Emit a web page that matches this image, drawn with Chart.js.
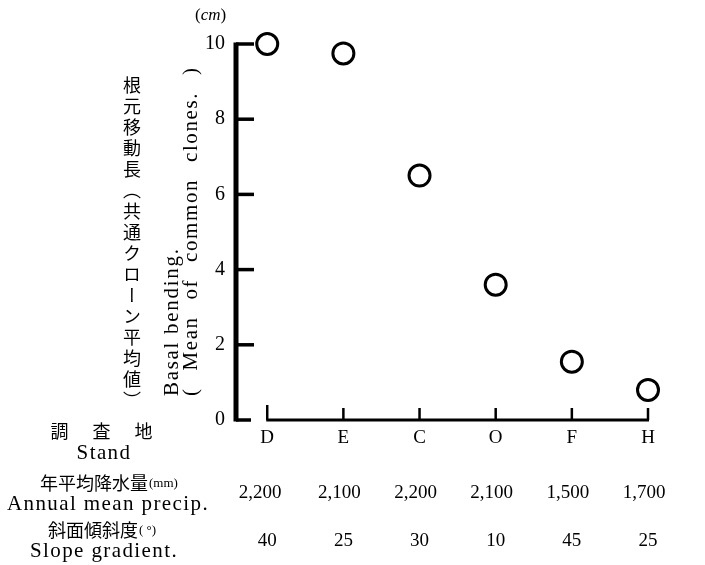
<!DOCTYPE html>
<html>
<head>
<meta charset="utf-8">
<script src="https://cdn.jsdelivr.net/npm/chart.js@4/dist/chart.umd.min.js"></script>
<style>
  html, body { margin: 0; padding: 0; background: #fff; }
  #wrap { position: relative; width: 705px; height: 565px; }
  #c { position: absolute; left: 0; top: 0; }
  .t { position: absolute; color: #000; white-space: pre; font-family: "Liberation Serif", serif; }
  .jp { font-family: "Noto Sans CJK JP", sans-serif; }
</style>
</head>
<body>
<div id="wrap">
  <canvas id="c" width="705" height="565"></canvas>
  <div class="t" style="left:195px;top:5px;font-size:17px;">(<i>cm</i>)</div>
  <div class="t jp" id="jpTitle" style="left:123px;top:76px;font-size:18px;writing-mode:vertical-rl;letter-spacing:3px;line-height:1;">根元移動長（共通クローン平均値）</div>
  <div class="t" id="enTitle1" style="left:173px;top:396px;font-size:21px;letter-spacing:1.7px;transform-origin:0 0;transform:rotate(-90deg) translate(0,-12px);line-height:1;">Basal bending.</div>
  <div class="t" id="enTitle2" style="left:192px;top:396px;font-size:21px;letter-spacing:1.6px;word-spacing:10px;transform-origin:0 0;transform:rotate(-90deg) translate(0,-12px);line-height:1;">( Mean of common clones. )</div>
</div>
<script>
const categories = ['D', 'E', 'C', 'O', 'F', 'H'];
const basalBending = [10, 9.75, 6.5, 3.6, 1.55, 0.8];
const annualPrecip = ['2,200', '2,100', '2,200', '2,100', '1,500', '1,700'];
const slopeGradient = ['40', '25', '30', '10', '45', '25'];
const yTicks = [0, 2, 4, 6, 8, 10];
const rowLabels = [
  { jp: '調　査　地', en: 'Stand' },
  { jp: '年平均降水量', unit: '(mm)', en: 'Annual mean precip.' },
  { jp: '斜面傾斜度', unit: '( °)', en: 'Slope gradient.' }
];

const axisPlugin = {
  id: 'axisPlugin',
  beforeDatasetsDraw(chart) {
    const ctx = chart.ctx;
    const xs = chart.scales.x, ys = chart.scales.y;
    const left = chart.chartArea.left;
    ctx.save();
    ctx.strokeStyle = '#000';
    ctx.lineCap = 'butt';
    ctx.lineWidth = 5;
    ctx.beginPath();
    ctx.moveTo(left, ys.getPixelForValue(10) - 1.5);
    ctx.lineTo(left, ys.getPixelForValue(0) + 1.5);
    ctx.stroke();
    ctx.lineWidth = 3.5;
    yTicks.forEach(v => {
      const y = ys.getPixelForValue(v);
      ctx.beginPath();
      ctx.moveTo(left, y);
      ctx.lineTo(left + (v === 0 ? 15 : 18), y);
      ctx.stroke();
    });
    const y0 = ys.getPixelForValue(0);
    ctx.lineWidth = 3;
    ctx.beginPath();
    ctx.moveTo(xs.getPixelForValue(0) - 1, y0);
    ctx.lineTo(xs.getPixelForValue(categories.length - 1) + 1, y0);
    ctx.stroke();
    ctx.lineWidth = 2.5;
    categories.forEach((c, i) => {
      const x = xs.getPixelForValue(i);
      ctx.beginPath();
      ctx.moveTo(x, y0);
      ctx.lineTo(x, y0 - (i === 0 ? 15 : 12));
      ctx.stroke();
    });
    ctx.restore();
  },
  afterDraw(chart) {
    const ctx = chart.ctx;
    const xs = chart.scales.x;
    ctx.save();
    ctx.fillStyle = '#000';
    ctx.textAlign = 'center';
    ctx.textBaseline = 'middle';
    ctx.font = '19px "Liberation Serif", serif';
    categories.forEach((c, i) => {
      const x = xs.getPixelForValue(i);
      ctx.fillText(annualPrecip[i], x - 4 + (i === 0 ? -3 : 0), 493);
      ctx.fillText(slopeGradient[i], x, 541);
    });
    ctx.font = '18px "Noto Sans CJK JP", sans-serif';
    if ('letterSpacing' in ctx) ctx.letterSpacing = '3px';
    ctx.fillText(rowLabels[0].jp, 103, 431);
    ctx.font = '21px "Liberation Serif", serif';
    if ('letterSpacing' in ctx) ctx.letterSpacing = '1.4px';
    ctx.fillText(rowLabels[0].en, 104, 453);
    ctx.fillText(rowLabels[1].en, 108, 504);
    ctx.fillText(rowLabels[2].en, 104, 551);
    if ('letterSpacing' in ctx) ctx.letterSpacing = '0px';
    [[1, 483, 40], [2, 530, 48]].forEach(([k, y, x0]) => {
      ctx.textAlign = 'left';
      ctx.font = '18px "Noto Sans CJK JP", sans-serif';
      ctx.fillText(rowLabels[k].jp, x0, y);
      const w = ctx.measureText(rowLabels[k].jp).width;
      ctx.font = '13px "Liberation Serif", serif';
      ctx.fillText(rowLabels[k].unit, x0 + w + 1, y + 1);
    });
    ctx.restore();
  }
};

new Chart(document.getElementById('c'), {
  type: 'scatter',
  data: {
    datasets: [{
      data: categories.map((c, i) => ({ x: i, y: basalBending[i] })),
      showLine: false,
      pointStyle: 'circle',
      pointRadius: 10.5,
      pointHoverRadius: 10.5,
      pointBorderWidth: 3,
      pointBorderColor: '#000',
      pointBackgroundColor: '#fff',
      clip: false
    }]
  },
  options: {
    responsive: false,
    animation: false,
    events: [],
    layout: { padding: { left: 186, top: 44, right: 57, bottom: 115 } },
    plugins: { legend: { display: false }, tooltip: { enabled: false } },
    scales: {
      x: {
        type: 'linear',
        min: -0.41,
        max: categories.length - 1,
        afterBuildTicks: s => { s.ticks = categories.map((c, i) => ({ value: i })); },
        afterFit: s => { s.height = 30; },
        grid: { display: false, drawTicks: false },
        border: { display: false },
        ticks: {
          callback: v => categories[v] ?? '',
          color: '#000',
          padding: 7,
          maxRotation: 0,
          autoSkip: false,
          font: { family: '"Liberation Serif", serif', size: 19 }
        }
      },
      y: {
        min: 0,
        max: 10,
        afterBuildTicks: s => { s.ticks = yTicks.map(v => ({ value: v })); },
        afterFit: s => { s.width = 50; },
        grid: { display: false, drawTicks: false },
        border: { display: false },
        ticks: {
          color: '#000',
          padding: 11,
          font: { family: '"Liberation Serif", serif', size: 20 }
        }
      }
    }
  },
  plugins: [axisPlugin]
});
</script>
</body>
</html>
